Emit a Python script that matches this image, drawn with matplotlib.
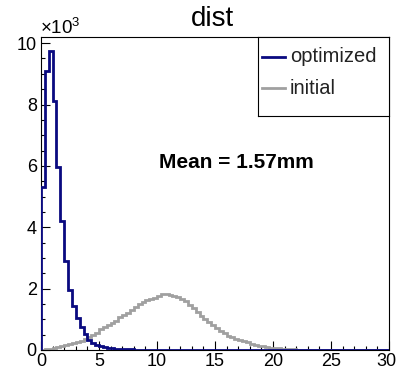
import numpy as np
import matplotlib
matplotlib.use("Agg")
import matplotlib.pyplot as plt
import matplotlib.transforms as mtransforms
from matplotlib.ticker import MultipleLocator, FuncFormatter

plt.rcParams['font.family'] = ['Liberation Sans', 'DejaVu Sans']
plt.rcParams['mathtext.fontset'] = 'custom'
plt.rcParams['mathtext.rm'] = 'Liberation Sans'
plt.rcParams['mathtext.it'] = 'Liberation Sans:italic'

# ---- data (counts per bin, bins of width 1/3 over 0..30) ----
n_bins = 90
x_range = (0, 30)

optimized = [5300, 9100, 9730, 8100, 5960, 4200, 2900, 1950, 1430, 1030,
             740, 520, 330, 220, 160, 120, 90, 70, 55, 45,
             35, 28, 22, 18, 15, 12, 10, 8, 6, 5,
             4, 3, 3, 2, 2, 1, 1, 1, 1, 1,
             1, 1, 1, 1, 1, 1, 1, 1, 1, 1,
             1, 0, 0, 0, 0]

initial = [5, 20, 45, 70, 95, 125, 150, 185, 215, 245,
           300, 360, 420, 490, 560, 670, 740, 800, 870, 960,
           1080, 1130, 1200, 1290, 1390, 1500, 1560, 1620, 1660, 1700,
           1760, 1820, 1840, 1800, 1770, 1720, 1660, 1600, 1480, 1370,
           1240, 1120, 1010, 900, 800, 720, 630, 550, 470, 410,
           370, 330, 290, 250, 210, 170, 140, 115, 95, 80,
           65, 50, 40, 30, 25, 20, 15, 10, 8, 5,
           3, 2, 1]

series_labels = ["optimized", "initial"]
title = "dist"
mean_text = "Mean = 1.57mm"
x_ticks = [0, 5, 10, 15, 20, 25, 30]
y_ticks = [0, 2000, 4000, 6000, 8000, 10000]

def pad(v):
    return np.array(list(v) + [0] * (n_bins - len(v)), dtype=float)

edges = np.linspace(x_range[0], x_range[1], n_bins + 1)

W, H = 397, 371
fig = plt.figure(figsize=(W / 100, H / 100), dpi=100)
L, R, T, B = 41, 389, 37, 350
ax = fig.add_axes([L / W, 1 - B / H, (R - L) / W, (B - T) / H])

blue = '#0a0a80'
grey = '#a0a0a0'
ax.stairs(pad(initial), edges, baseline=0, color=grey, lw=2.0, zorder=2)
ax.stairs(pad(optimized), edges, baseline=0, color=blue, lw=2.0, zorder=3)

ax.set_xlim(*x_range)
ax.set_ylim(0, 10200)

ax.set_xticks(x_ticks)
ax.set_yticks(y_ticks)
ax.xaxis.set_minor_locator(MultipleLocator(1))
ax.yaxis.set_minor_locator(MultipleLocator(500))
ax.yaxis.set_major_formatter(FuncFormatter(lambda v, p: f"{v/1000:g}"))
ax.tick_params(which='both', direction='in', top=False, right=False,
               labelsize=13, width=0.8, colors='black')
ax.tick_params(which='major', length=6.5)
ax.tick_params(which='minor', length=3)
ax.tick_params(axis='y', pad=3)
ax.tick_params(axis='x', pad=2)
for s in ax.spines.values():
    s.set_linewidth(0.8)

# keep the last x label inside the image
fig.canvas.draw()
last = ax.get_xticklabels()[-1]
last.set_transform(last.get_transform() +
                   mtransforms.ScaledTranslation(-3 / 100, 0, fig.dpi_scale_trans))

# legend box
lx0, lx1, ly0, ly1 = 258, 389, 37, 116
leg_ax = fig.add_axes([lx0 / W, 1 - ly1 / H, (lx1 - lx0) / W, (ly1 - ly0) / H])
leg_ax.set_xlim(lx0, lx1)
leg_ax.set_ylim(ly1, ly0)
leg_ax.set_xticks([])
leg_ax.set_yticks([])
for s in leg_ax.spines.values():
    s.set_linewidth(0.8)
for yy, col, lab in [(57, blue, series_labels[0]), (88, grey, series_labels[1])]:
    leg_ax.plot([262, 285], [yy, yy], color=col, lw=2.0)
    leg_ax.text(290, yy, lab, fontsize=14.5, va='center', ha='left', color='#222222')

fig.text(212 / W, 1 - 19 / H, title, fontsize=20, ha='center', va='center')
fig.text(236 / W, 1 - 163 / H, mean_text, fontsize=15, fontweight='bold',
         ha='center', va='center')
fig.text(40 / W, 1 - 34 / H, r'$\times10^{3}$', fontsize=13.5, ha='left', va='baseline')

fig.savefig('out.png', dpi=100)
